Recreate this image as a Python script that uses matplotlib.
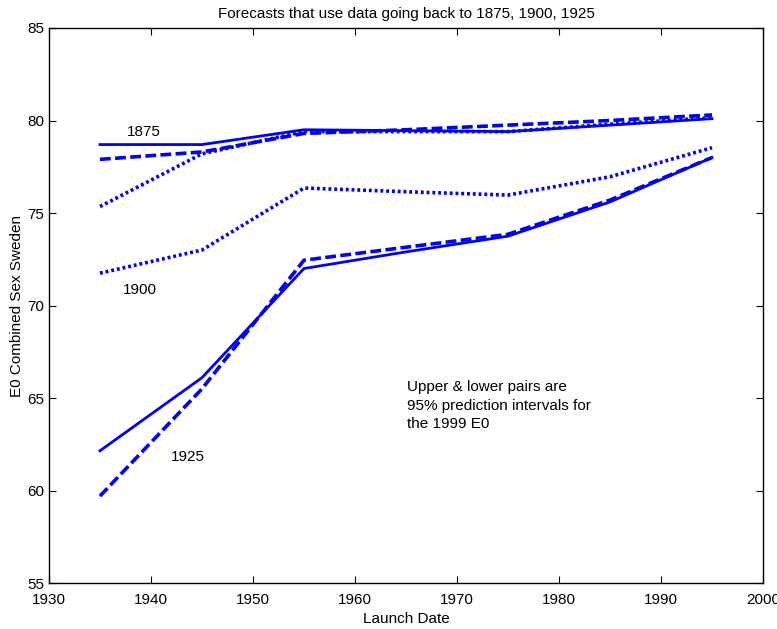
import numpy as np
import matplotlib
matplotlib.use("Agg")
import matplotlib.pyplot as plt

plt.rcParams['font.family'] = ['Liberation Sans', 'DejaVu Sans']

launch = [1935, 1945, 1955, 1965, 1975, 1985, 1995]

# upper / lower 95% bounds for the 1999 E0, one pair per line style
solid_hi = [78.7, 78.7, 79.5, 79.45, 79.4, 79.75, 80.1]
solid_lo = [62.15, 66.1, 72.0, 72.9, 73.75, 75.6, 78.0]
dash_hi = [77.9, 78.3, 79.3, 79.5, 79.75, 80.0, 80.3]
dash_lo = [59.7, 65.5, 72.45, 73.15, 73.85, 75.7, 78.0]
dot_hi = [75.35, 78.2, 79.4, 79.4, 79.4, 79.8, 80.15]
dot_lo = [71.75, 73.0, 76.35, 76.15, 75.97, 76.96, 78.53]

fig = plt.figure(figsize=(7.77, 6.29), dpi=100)
ax = fig.add_axes([0.063, 0.073, 0.919, 0.8825])

blue = "#0000ff"
ax.plot(launch, solid_hi, "-", color=blue, lw=2.0)
ax.plot(launch, solid_lo, "-", color=blue, lw=2.0)
ax.plot(launch, dash_hi, "--", color=blue, lw=2.6, dashes=(3, 1.2))
ax.plot(launch, dash_lo, "--", color=blue, lw=2.6, dashes=(3, 1.2))
ax.plot(launch, dot_hi, ":", color=blue, lw=2.6, dashes=(0.8, 0.8))
ax.plot(launch, dot_lo, ":", color=blue, lw=2.6, dashes=(0.8, 0.8))

ax.text(1937.6, 79.38, "1875", fontsize=11, va="center")
ax.text(1937.2, 70.84, "1900", fontsize=11, va="center")
ax.text(1942.0, 61.8, "1925", fontsize=11, va="center")
ax.text(1965.1, 65.95, "Upper & lower pairs are\n95% prediction intervals for\nthe 1999 E0",
        fontsize=11, linespacing=1.4, va="top")

ax.set_xlim(1930, 2000)
ax.set_ylim(55, 85)
ax.set_xticks(np.arange(1930, 2001, 10))
ax.set_yticks(np.arange(55, 86, 5))
ax.tick_params(direction="in", top=True, right=True, labelsize=11, length=5)
ax.tick_params(axis="x", pad=7)
for s in ax.spines.values():
    s.set_linewidth(1.0)

ax.set_xlabel("Launch Date", fontsize=11, labelpad=4)
ax.set_ylabel("E0 Combined Sex Sweden", fontsize=11, labelpad=2)
ax.set_title("Forecasts that use data going back to 1875, 1900, 1925", fontsize=11, pad=7)

fig.savefig("out.png", dpi=100)
